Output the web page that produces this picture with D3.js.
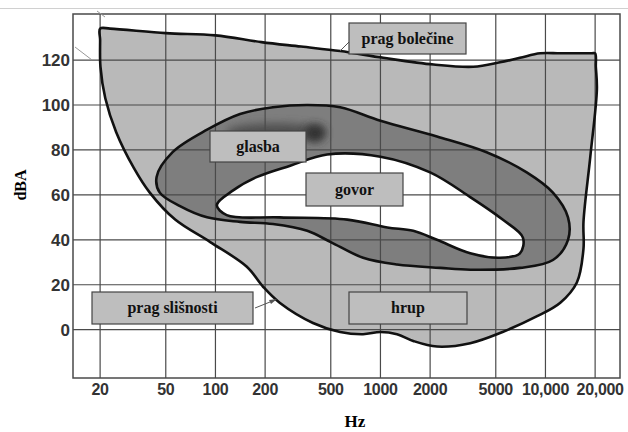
<!DOCTYPE html>
<html lang="en">
  <head>
    <meta charset="UTF-8" />
    <script src="https://d3js.org/d3.v7.min.js"></script>
    <title>Slušno območje</title>
    <style>
      body { margin: 0; background: #fff; }
    </style>
  </head>
  <body>
    <svg id="chart" width="628" height="432"></svg>
    <script>
      // Frequency / level data
      var xTicks = [20, 50, 100, 200, 500, 1000, 2000, 5000, 10000, 20000];
      var xTickLabels = ['20', '50', '100', '200', '500', '1000', '2000', '5000', '10,000', '20,000'];
      var yTicks = [0, 20, 40, 60, 80, 100, 120];

      // area between threshold of hearing and threshold of pain
      var hearingHz = [20, 23, 50, 100, 190, 330, 570, 1040, 2100, 3650, 5300, 7000, 9300, 12300, 19000, 20000,
        20200, 20500, 18700, 17000, 17000, 15500, 12300, 8900, 5500, 3500, 2200, 1580, 1260, 1000, 785, 570,
        390, 245, 195, 155, 93, 57, 40, 32, 25, 21.5, 20.1, 20];
      var hearingDb = [134, 134, 132, 131, 128, 126, 124, 121, 118, 117, 119, 121, 123, 123, 123, 123,
        117, 107, 77, 48, 36, 21, 12, 6, -1, -6, -7.5, -5, -2, -1, -2, -1,
        3, 12, 19, 28, 39, 49, 61, 72, 88, 103, 117, 129];

      // music
      var musicHz = [44, 46, 61, 89, 141, 223, 360, 500, 785, 1260, 2300, 3500, 7000, 11100, 13700,
        13700, 11100, 7700, 4400, 2200, 1000, 570, 360, 223, 141, 89, 55];
      var musicDb = [68, 61, 55, 50, 48, 47, 44, 39, 32, 29, 27.5, 26.7, 27.5, 31, 40,
        50, 61, 70, 79, 86, 93, 99, 100, 99, 96, 89, 79];
      var musicPeak = { hz: 330, db: 87 };

      // speech
      var speechHz = [102, 128, 179, 284, 475, 1000, 2000, 3500, 5500, 7300, 7000, 5300, 3500, 2200,
        1580, 1100, 630, 245, 117];
      var speechDb = [55.5, 62, 68, 73, 78, 77, 70, 59, 49, 41, 34, 32, 34, 40,
        44, 45.5, 49, 50, 51];

      var labelNames = ['prag bolečine', 'glasba', 'govor', 'prag slišnosti', 'hrup'];

      var svg = d3.select('#chart');

      var x = d3.scaleLog().domain([13.7, 28300]).range([73, 620]);
      var y = d3.scaleLinear().domain([-21.5, 140.5]).range([378, 14]);

      // top page rule
      svg.append('line')
        .attr('x1', 0).attr('x2', 628).attr('y1', 8.5).attr('y2', 8.5)
        .attr('stroke', '#d0d0d0').attr('stroke-width', 1);

      var area = d3.line()
        .x(function(d) { return x(d[0]); })
        .y(function(d) { return y(d[1]); })
        .curve(d3.curveCatmullRomClosed.alpha(0.5));

      var hearing = d3.zip(hearingHz, hearingDb);
      var music = d3.zip(musicHz, musicDb);
      var speech = d3.zip(speechHz, speechDb);

      var defs = svg.append('defs');
      defs.append('filter').attr('id', 'blur')
        .attr('x', '-50%').attr('y', '-50%').attr('width', '200%').attr('height', '200%')
        .append('feGaussianBlur').attr('stdDeviation', 4);
      defs.append('clipPath').attr('id', 'musicClip')
        .append('path').attr('d', area(music));

      // fills
      svg.append('path').attr('d', area(hearing)).attr('fill', '#b9b9b9');
      svg.append('path').attr('d', area(music)).attr('fill', '#7e7e7e');

      var blob = svg.append('g').attr('clip-path', 'url(#musicClip)');
      blob.append('ellipse')
        .attr('cx', x(musicPeak.hz) - 25).attr('cy', y(musicPeak.db) - 2)
        .attr('rx', 50).attr('ry', 9)
        .attr('fill', '#4f4f4f').attr('filter', 'url(#blur)');
      blob.append('ellipse')
        .attr('cx', x(musicPeak.hz) + 14).attr('cy', y(musicPeak.db) - 1)
        .attr('rx', 10).attr('ry', 9)
        .attr('fill', '#333').attr('filter', 'url(#blur)');

      svg.append('path').attr('d', area(speech)).attr('fill', '#ffffff');

      // grid
      var grid = svg.append('g').attr('stroke', '#4a4a4a').attr('stroke-width', 1.2);
      grid.selectAll('.vx').data(xTicks).enter().append('line')
        .attr('x1', function(d) { return x(d); }).attr('x2', function(d) { return x(d); })
        .attr('y1', y.range()[1]).attr('y2', y.range()[0]);
      grid.selectAll('.hy').data(yTicks).enter().append('line')
        .attr('x1', x.range()[0]).attr('x2', x.range()[1])
        .attr('y1', function(d) { return y(d); }).attr('y2', function(d) { return y(d); });
      svg.append('rect')
        .attr('x', x.range()[0]).attr('y', y.range()[1])
        .attr('width', x.range()[1] - x.range()[0]).attr('height', y.range()[0] - y.range()[1])
        .attr('fill', 'none').attr('stroke', '#4a4a4a').attr('stroke-width', 1.5);

      // outlines
      [hearing, music, speech].forEach(function(r) {
        svg.append('path').attr('d', area(r))
          .attr('fill', 'none').attr('stroke', '#111').attr('stroke-width', 2.6)
          .attr('stroke-linejoin', 'miter');
      });

      // stray marks in the scan
      svg.append('g').attr('stroke', '#999').attr('stroke-width', 1)
        .selectAll('line').data([[97, 11, 105, 17], [75, 47, 92, 60]]).enter().append('line')
        .attr('x1', function(d) { return d[0]; }).attr('y1', function(d) { return d[1]; })
        .attr('x2', function(d) { return d[2]; }).attr('y2', function(d) { return d[3]; });

      // callout leaders
      svg.append('line').attr('x1', 340).attr('y1', 51).attr('x2', 349).attr('y2', 42)
        .attr('stroke', '#555').attr('stroke-width', 1);
      svg.append('line').attr('x1', 255).attr('y1', 308).attr('x2', 275).attr('y2', 300)
        .attr('stroke', '#555').attr('stroke-width', 1);
      svg.append('path').attr('d', 'M277,299 L269,300 L271,304 Z').attr('fill', '#555');

      // axis tick labels
      svg.append('g').selectAll('text').data(yTicks).enter().append('text')
        .attr('x', 70).attr('y', function(d) { return y(d) + 6; })
        .attr('text-anchor', 'end')
        .attr('font-family', 'Liberation Sans, Arial, sans-serif')
        .attr('font-size', 17).attr('font-weight', 'bold').attr('fill', '#333')
        .text(function(d) { return d; });
      svg.append('g').selectAll('text').data(xTicks).enter().append('text')
        .attr('x', function(d, i) { return x(d) + (i === xTicks.length - 1 ? 5 : 0); }).attr('y', 395)
        .attr('text-anchor', 'middle')
        .attr('font-family', 'Liberation Sans, Arial, sans-serif')
        .attr('font-size', 16).attr('font-weight', 'bold').attr('fill', '#333')
        .attr('letter-spacing', -0.3)
        .text(function(d, i) { return xTickLabels[i]; });

      // axis titles
      svg.append('text').attr('x', 355).attr('y', 427).attr('text-anchor', 'middle')
        .attr('font-family', 'Liberation Serif, Times New Roman, serif')
        .attr('font-size', 17).attr('font-weight', 'bold').text('Hz');
      svg.append('text').attr('transform', 'translate(26,185) rotate(-90)').attr('text-anchor', 'middle')
        .attr('font-family', 'Liberation Serif, Times New Roman, serif')
        .attr('font-size', 16).attr('font-weight', 'bold').text('dBA');

      // label boxes
      var boxes = [
        { x: 349, y: 23, w: 117, h: 31 },
        { x: 210, y: 131, w: 96, h: 31 },
        { x: 306, y: 173, w: 97, h: 33 },
        { x: 92, y: 292, w: 161, h: 32 },
        { x: 349, y: 292, w: 118, h: 32 }
      ];
      var lab = svg.append('g').selectAll('g').data(labelNames).enter().append('g');
      lab.append('rect')
        .attr('x', function(d, i) { return boxes[i].x; })
        .attr('y', function(d, i) { return boxes[i].y; })
        .attr('width', function(d, i) { return boxes[i].w; })
        .attr('height', function(d, i) { return boxes[i].h; })
        .attr('fill', '#bebebe').attr('stroke', '#444').attr('stroke-width', 1.2);
      lab.append('text')
        .attr('x', function(d, i) { return boxes[i].x + boxes[i].w / 2; })
        .attr('y', function(d, i) { return boxes[i].y + boxes[i].h / 2 + 5; })
        .attr('text-anchor', 'middle')
        .attr('font-family', 'Liberation Serif, Times New Roman, serif')
        .attr('font-size', 16).attr('font-weight', 'bold').attr('fill', '#111')
        .text(function(d) { return d; });
    </script>
  </body>
</html>
